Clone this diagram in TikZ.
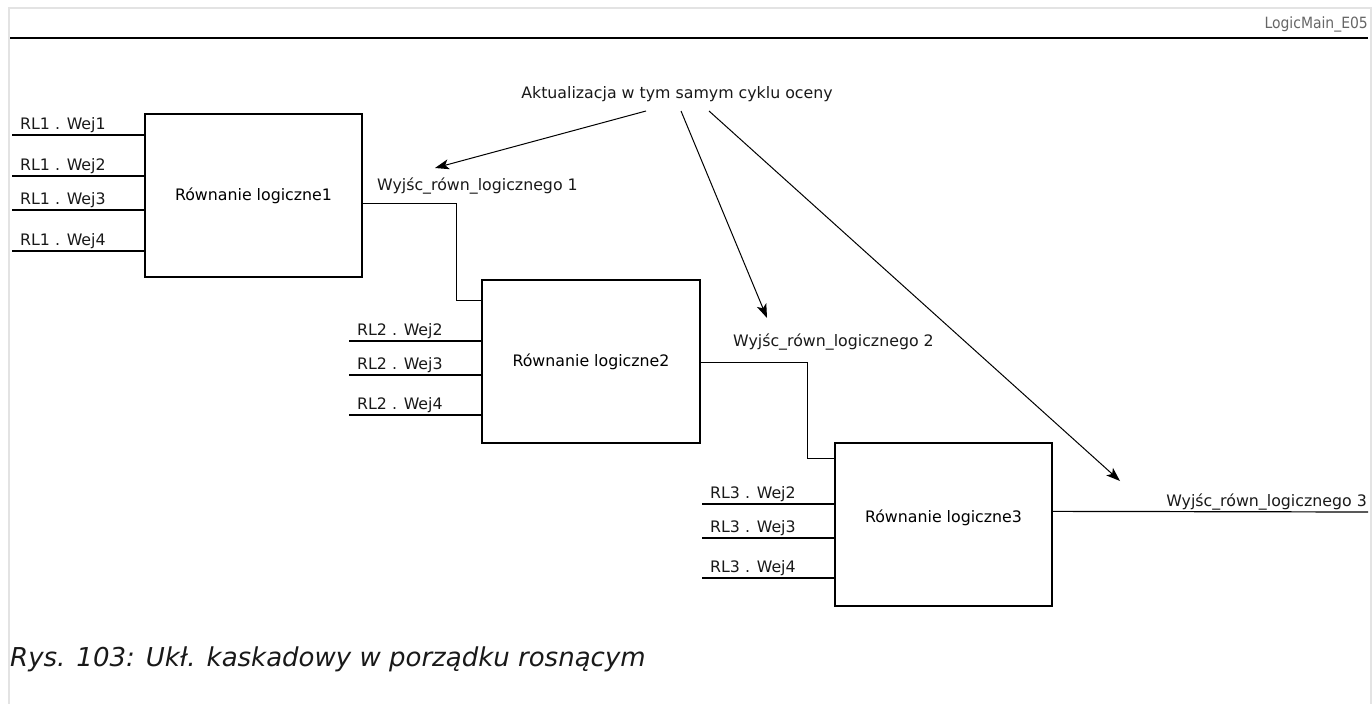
\documentclass[tikz,border=0pt]{standalone}
\usepackage{fontspec}
\setmainfont{DejaVu Sans}
\newfontfamily\condfont{DejaVu Sans Condensed}
\usetikzlibrary{arrows.meta,calc}
\newcommand\dtext{\fontsize{15.8}{19}\selectfont}
\newcommand\captext{\fontsize{26}{30}\selectfont\itshape}
\begin{document}
\begin{tikzpicture}[x=1pt,y=-1pt,
  blk/.style={draw, line width=1.3pt, minimum width=217pt, minimum height=163pt, inner sep=0pt},
  wire/.style={line width=1.2pt},
  lbl/.style={anchor=base west, inner sep=0pt, font=\dtext, text=black!90},
  upd/.style={line width=1pt, -{Stealth[length=14pt,width=10pt,inset=3.5pt]}},
  frame/.style={draw=black!11, line width=2.5pt}
]
\useasboundingbox (0,0) rectangle (1372,704);
% page frame and header
\draw[frame] (9,704) -- (9,8) -- (1371,8) -- (1371,704);
\coordinate (hl) at (10,38);
\coordinate (hr) at (1368,38);
\draw[line width=2.7pt] (hl) -- (hr);
\node[anchor=base east, inner sep=0pt, text=black!60, font=\condfont\fontsize{15.5}{18}\selectfont] (hdr) at (1368,28) {LogicMain\_E05};

% blocks
\node[blk, font=\dtext] (b1) at (253.5,195.5) {Równanie logiczne1};
\node[blk, font=\dtext, minimum width=218pt] (b2) at (591,361.5) {Równanie logiczne2};
\node[blk] (b3) at (943.5,524.5) {};
\node[font=\dtext, inner sep=0pt] (t3) at ($(b3.center)+(0,-7)$) {Równanie logiczne3};

% inputs of block 1
\foreach \y/\t in {135/1,176/2,210/3,251/4}{
  \coordinate (ia\t) at (12,\y);
  \draw[wire] (ia\t) -- (ia\t -| b1.west);
  \node[lbl] (la\t) at (20,{\y-6}) {RL1 . Wej\t};
}
% inputs of block 2
\foreach \y/\t in {341/2,375/3,415/4}{
  \coordinate (ib\t) at (349,\y);
  \draw[wire] (ib\t) -- (ib\t -| b2.west);
  \node[lbl] (lb\t) at (357,{\y-6}) {RL2 . Wej\t};
}
% inputs of block 3
\foreach \y/\t in {504/2,538/3,578/4}{
  \coordinate (ic\t) at (702,\y);
  \draw[wire] (ic\t) -- (ic\t -| b3.west);
  \node[lbl] (lc\t) at (710,{\y-6}) {RL3 . Wej\t};
}

% cascade connections
\coordinate (o1) at ($(b1.north east)+(0,90)$);
\coordinate (e2) at ($(b2.north west)+(0,21)$);
\draw[wire] (o1) -- ++(94,0) |- (e2);
\coordinate (o2) at ($(b2.north east)+(0,83)$);
\coordinate (e3) at ($(b3.north west)+(0,16)$);
\draw[wire] (o2) -- ++(107,0) |- (e3);
\coordinate (o3) at ($(b3.north east)+(0,69)$);
\coordinate (out3) at (1368,512);
\draw[wire] (o3) -- (out3);

% output labels
\node[lbl] (w1) at (377,190) {Wyjśc\_równ\_logicznego 1};
\node[lbl] (w2) at (733,346) {Wyjśc\_równ\_logicznego 2};
\node[lbl, anchor=base east] (w3) at (1367,506) {Wyjśc\_równ\_logicznego 3};

% update note and arrows
\node[anchor=base, inner sep=0pt, font=\dtext, text=black!90] (note) at (677,98) {Aktualizacja w tym samym cyklu oceny};
\coordinate (a1s) at (646,111);
\coordinate (a1e) at (435,168);
\coordinate (a2s) at (681,111);
\coordinate (a2e) at (767,318);
\coordinate (a3s) at (709,111);
\coordinate (a3e) at (1120,481);
\draw[upd] (a1s) -- (a1e);
\draw[upd] (a2s) -- (a2e);
\draw[upd] (a3s) -- (a3e);

% caption
\node[anchor=base west, inner sep=0pt, font=\captext, text=black!90] (cap) at (10,666) {Rys. 103: Ukł. kaskadowy w porządku rosnącym};
\end{tikzpicture}
\end{document}
